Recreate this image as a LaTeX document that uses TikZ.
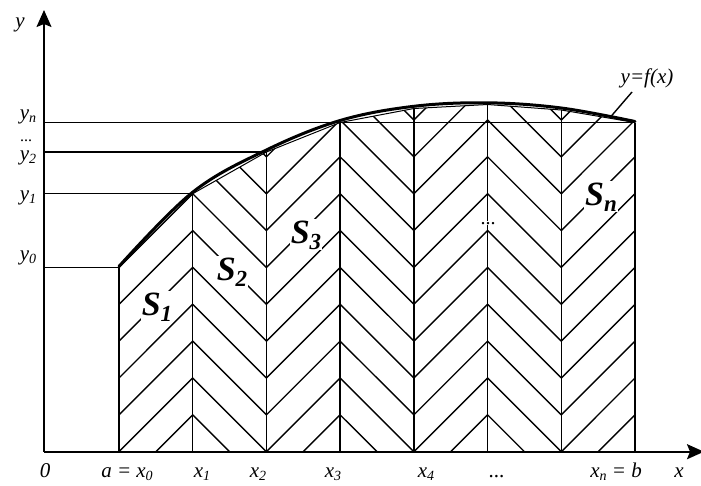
\documentclass[tikz,border=0pt]{standalone}
\usepackage{fontspec}
\setmainfont{Liberation Serif}
\usetikzlibrary{arrows.meta,calc}
\newcommand\lsub[1]{\raisebox{-0.35ex}{\fontsize{14}{14}\selectfont\itshape #1}}
\newcommand\Ssub[1]{\raisebox{-0.4ex}{\fontsize{23}{23}\selectfont\bfseries\itshape #1}}
\tikzset{
  axis/.style={line width=1.8pt,-{Stealth[length=17pt,width=15pt,inset=3pt]}},
  grid line/.style={line width=1.4pt},
  hatch/.style={line width=1.4pt},
  fcurve/.style={line width=3pt,line cap=round,line join=round},
  lab/.style={inner sep=1pt,font=\fontsize{21}{21}\selectfont\itshape},
  area/.style={fill=white,inner sep=1pt,font=\fontsize{34}{34}\selectfont\bfseries\itshape},
}
\begin{document}
\begin{tikzpicture}[x=1pt,y=-1pt]
\useasboundingbox (0,0) rectangle (701,485);
\def\s{36.857}
\coordinate (O) at (44,451.7);
\coordinate (Ytip) at (44,10);
\coordinate (Xtip) at (704,451.7);
\foreach \i/\xx/\yy in {0/119/267.4,1/192.7/193.7,2/266.4/152,3/340.1/122.5,4/413.9/108.5,5/487.6/104.5,6/561.3/110,7/635/122.5}{
  \coordinate (P\i) at (\xx,\yy);
  \coordinate (B\i) at (\xx,451.7);
}
% hatching
\begin{scope}
\clip (B0) -- (P0) -- (P1) -- (P2) -- (P3) -- (P4) -- (P5) -- (P6) -- (P7) -- (B7) -- cycle;
\foreach \i in {0,...,6}{
  \pgfmathtruncatemacro\j{\i+1}
  \foreach \k in {-2,...,10}{
    \ifodd\i
      \draw[hatch] ($(B\i)+(0,{0-(\k+2)*\s})$) -- ($(B\j)+(0,{0-(\k)*\s})$);
    \else
      \draw[hatch] ($(B\i)+(0,{0-(\k)*\s})$) -- ($(B\j)+(0,{0-(\k+2)*\s})$);
    \fi
  }
}
\end{scope}
% chords
\draw[grid line,line width=1pt] (P0) -- (P1) -- (P2) -- (P3) -- (P4) -- (P5) -- (P6) -- (P7);
% verticals
\foreach \i in {0,...,7}{ \draw[grid line] (B\i) -- (P\i); }
% horizontals
\draw[grid line] (O |- P0) -- (P0);
\draw[grid line] (O |- P1) -- (P1);
\draw[grid line] (O |- P2) -- (P2);
\draw[grid line] (O |- P7) -- (P7);
% curve
\draw[fcurve] plot[smooth,tension=0.6] coordinates {(119,266.4) (192.7,192.2) (266.4,150) (340.1,120.5) (413.9,106.3) (487.6,102.8) (561.3,108) (635,121.5)};
% leader
\coordinate (Lf) at (632,92);
\coordinate (Lc) at (610.5,117);
\draw[grid line] (Lf) -- (Lc);
\node[lab,anchor=south] (fl) at (647,89) {y=f(x)};
% axes
\draw[axis] (O) -- (Ytip);
\draw[axis] (O) -- (Xtip);
% axis labels
\node[lab,anchor=base] (ylab) at (20,27) {y};
\node[lab,anchor=base] (xlab) at (679,477) {x};
\node[lab,anchor=base] (zero) at (45,477) {0};
\node[lab,anchor=base] (x0) at (127,477) {a = x\lsub{0}};
\node[lab,anchor=base] (x1) at (202,477) {x\lsub{1}};
\node[lab,anchor=base] (x2) at (258,477) {x\lsub{2}};
\node[lab,anchor=base] (x3) at (333,477) {x\lsub{3}};
\node[lab,anchor=base] (x4) at (426,477) {x\lsub{4}};
\node[lab,anchor=base] (xd) at (497,477) {...};
\node[lab,anchor=base] (xn) at (616,477) {x\lsub{n} = b};
\node[lab,anchor=base] (y0) at (28,260) {y\lsub{0}};
\node[lab,anchor=base] (y1) at (28,200) {y\lsub{1}};
\node[lab,anchor=base] (y2) at (28,160) {y\lsub{2}};
\node[inner sep=0pt,font=\fontsize{16}{16}\selectfont,anchor=base] (yd) at (26,141) {...};
\node[lab,anchor=base,inner sep=0pt] (yn) at (28,119) {y\lsub{n}};
% area labels
\node[area,anchor=base] (S1) at (157,315) {S\Ssub{1}};
\node[area,anchor=base] (S2) at (232,280) {S\Ssub{2}};
\node[area,anchor=base] (S3) at (306,243) {S\Ssub{3}};
\node[area,anchor=base] (Sn) at (601,205) {S\Ssub{n}};
\node[fill=white,inner sep=1pt,font=\fontsize{20}{20}\selectfont,anchor=base] (Sd) at (488,224) {...};
\end{tikzpicture}
\end{document}
